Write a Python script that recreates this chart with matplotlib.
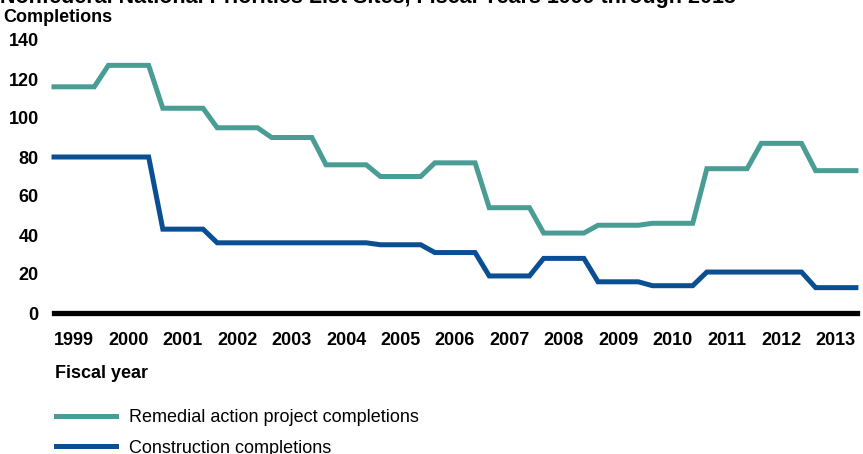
import numpy as np
import matplotlib.pyplot as plt
from matplotlib.lines import Line2D

# Данные
years = ["1999", "2000", "2001", "2002", "2003", "2004", "2005", "2006",
         "2007", "2008", "2009", "2010", "2011", "2012", "2013"]
remedial = [116, 127, 105, 95, 90, 76, 70, 77, 54, 41, 45, 46, 74, 87, 73]
construction = [80, 80, 43, 36, 36, 36, 35, 31, 19, 28, 16, 14, 21, 21, 13]

teal = "#4a9d95"
blue = "#0b4f93"
half = 0.37  # половина ширины горизонтальной "ступеньки"

plt.rcParams['font.family'] = ['Liberation Sans', 'DejaVu Sans']


def steps(values):
    """Ступенчатая линия с наклонными переходами между годами."""
    xs, ys = [], []
    for i, v in enumerate(values):
        xs += [i - half, i + half]
        ys += [v, v]
    return xs, ys


fig = plt.figure(figsize=(8.63, 4.54), dpi=100)
W, H = 863, 454
ax = fig.add_axes([54 / W, 1 - 313 / H, (857 - 54) / W, (313 - 40) / H])

x1, y1 = steps(remedial)
x2, y2 = steps(construction)
ax.plot(x1, y1, color=teal, lw=3.6, solid_joinstyle='miter', clip_on=False)
ax.plot(x2, y2, color=blue, lw=3.6, solid_joinstyle='miter', clip_on=False)
ax.axhline(0, color="black", lw=3.8, clip_on=False)

ax.set_xlim(-half, len(years) - 1 + 0.39)
ax.set_ylim(0, 140)
ax.set_yticks(range(0, 141, 20))
ax.set_xticks(range(len(years)))
ax.set_xticklabels(years)
for s in ax.spines.values():
    s.set_visible(False)
ax.tick_params(axis='both', length=0, labelsize=13)
ax.tick_params(axis='y', pad=11)
ax.tick_params(axis='x', pad=14)
for lbl in ax.get_xticklabels() + ax.get_yticklabels():
    lbl.set_fontweight('bold')

# Заголовок (обрезан сверху) и подписи
fig.text(0.0, 1 - 3 / H, "Nonfederal National Priorities List Sites, Fiscal Years 1999 through 2013",
         fontsize=15.5, fontweight='bold', va='baseline', ha='left')
fig.text(3 / W, 1 - 17 / H, "Completions", fontsize=13, fontweight='bold', va='center', ha='left')
fig.text(55 / W, 1 - 374 / H, "Fiscal year", fontsize=13, fontweight='bold', va='center', ha='left')

handles = [Line2D([], [], color=teal, lw=3.6), Line2D([], [], color=blue, lw=3.6)]
fig.legend(handles, ["Remedial action project completions", "Construction completions"],
           loc='upper left', bbox_to_anchor=(40 / W, 1 - 393 / H), frameon=False,
           fontsize=13, handlelength=3.3, handletextpad=0.75, labelspacing=0.75)

fig.savefig("out.png", dpi=100)
